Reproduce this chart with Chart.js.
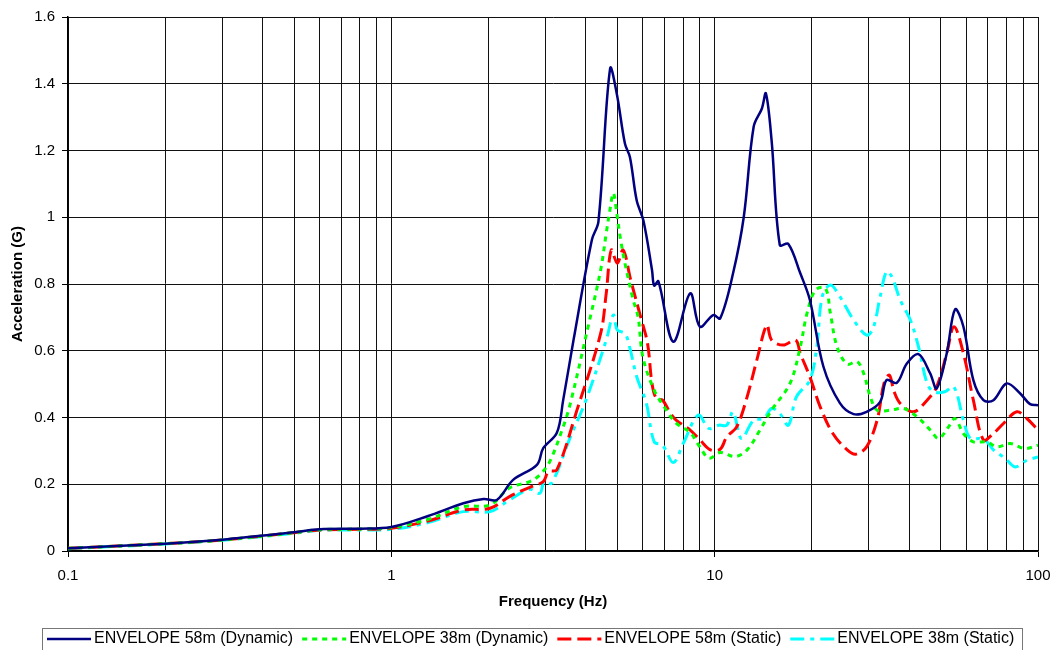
<!DOCTYPE html>
<html lang="en">
<head>
<meta charset="UTF-8">
<title>Envelope spectra</title>
<script src="https://cdn.jsdelivr.net/npm/chart.js@4"></script>
<style>
  html, body { margin: 0; padding: 0; background: #fff; }
  #wrap { width: 1053px; height: 650px; overflow: hidden; }
</style>
</head>
<body>
<div id="wrap"><canvas id="chart" width="1053" height="650"></canvas></div>
<script>
// series readings: frequency (Hz) / acceleration (G)
const freq58Dyn = [0.1,0.2,0.3,0.5,0.6,0.8,1.0,1.3,1.67,1.93,2.12,2.38,2.82,2.95,3.25,3.4,3.66,4.17,4.37,4.75,4.98,5.28,5.47,5.74,6.02,6.4,6.5,6.7,7.45,8.4,9.0,9.9,10.4,11.4,12.3,13.2,14.0,14.4,15.0,15.9,16.9,18.4,19.7,21.7,24.4,26.9,29.5,32.5,34.0,36.6,39.3,42.7,46.4,48.6,52.2,55.4,58.8,63.1,67.8,72.8,80,88.1,94.5,100];
const acc58Dyn  = [0.008,0.022,0.034,0.056,0.065,0.067,0.072,0.105,0.143,0.156,0.153,0.213,0.258,0.308,0.354,0.452,0.632,0.932,0.987,1.446,1.37,1.22,1.18,1.05,0.99,0.842,0.795,0.808,0.627,0.772,0.672,0.707,0.697,0.832,1.0,1.271,1.326,1.371,1.23,0.917,0.92,0.832,0.752,0.552,0.443,0.41,0.417,0.447,0.512,0.504,0.562,0.59,0.532,0.487,0.592,0.724,0.672,0.512,0.452,0.452,0.502,0.472,0.44,0.437];

const freq38Dyn = [0.1,0.2,0.3,0.5,0.6,0.8,1.0,1.3,1.67,2.02,2.32,2.68,2.88,3.09,3.4,3.58,4.06,4.44,4.62,4.74,4.86,4.98,5.1,5.28,5.6,5.8,6.0,6.5,7.0,7.6,8.4,9.0,9.6,10.4,11.6,12.6,13.8,15.0,17.1,18.4,19.3,20.5,22.0,22.8,23.9,25.7,27.6,28.9,30.3,31.8,35,38.4,42.3,46.5,49.3,52.9,55.4,58.8,63.1,69.5,74.6,82.1,91.2,100];
const acc38Dyn  = [0.008,0.022,0.033,0.055,0.064,0.066,0.07,0.095,0.133,0.138,0.189,0.208,0.228,0.268,0.372,0.443,0.672,0.842,0.952,1.02,1.072,1.012,0.942,0.862,0.752,0.70,0.58,0.482,0.43,0.383,0.355,0.312,0.278,0.295,0.283,0.303,0.362,0.422,0.502,0.612,0.712,0.782,0.787,0.712,0.612,0.56,0.567,0.532,0.462,0.422,0.422,0.427,0.402,0.362,0.337,0.372,0.397,0.352,0.327,0.327,0.312,0.322,0.307,0.317];

const freq58Sta = [0.1,0.2,0.3,0.5,0.6,0.8,1.0,1.3,1.67,2.02,2.32,2.68,2.95,3.06,3.25,3.75,4.44,4.62,4.79,5.0,5.21,5.5,5.9,6.2,6.4,6.6,6.9,7.3,7.6,8.4,9.0,9.7,10.4,10.9,11.7,12.6,13.5,14.5,15.0,16.3,17.8,18.4,19.7,21.2,23.2,25.7,27.3,29.5,31.8,33.4,34.7,35.9,37.5,41.2,45.4,48.6,52.2,55,58.8,63.1,67.8,72.8,78.2,86,92.4,100];
const acc58Sta  = [0.008,0.022,0.033,0.055,0.063,0.065,0.068,0.09,0.123,0.128,0.163,0.191,0.208,0.238,0.243,0.422,0.652,0.772,0.902,0.862,0.902,0.812,0.702,0.622,0.502,0.457,0.452,0.412,0.392,0.362,0.333,0.303,0.305,0.342,0.372,0.462,0.572,0.677,0.632,0.617,0.632,0.592,0.522,0.432,0.352,0.303,0.29,0.312,0.392,0.502,0.527,0.477,0.442,0.417,0.452,0.492,0.592,0.672,0.592,0.452,0.333,0.352,0.382,0.417,0.397,0.362];

const freq38Sta = [0.1,0.2,0.3,0.5,0.6,0.8,1.0,1.3,1.67,2.02,2.32,2.68,2.88,2.97,3.13,3.58,4.0,4.62,4.86,5.0,5.28,5.47,5.74,6.15,6.5,6.9,7.45,8.0,8.9,9.6,10.3,10.9,11.4,12.1,13.2,14.2,15.0,15.9,16.9,17.9,19.7,20.7,21.5,22.8,24.4,26.9,29.5,30.9,32.5,34.0,35.3,37.5,40.3,42.7,45.4,47.6,51.5,54.9,58.8,61.8,67.8,72.8,79.1,85,92.4,100];
const acc38Sta  = [0.007,0.021,0.032,0.053,0.062,0.063,0.065,0.085,0.118,0.118,0.153,0.185,0.173,0.208,0.203,0.342,0.452,0.632,0.707,0.662,0.652,0.607,0.522,0.442,0.327,0.317,0.265,0.323,0.407,0.367,0.377,0.377,0.417,0.337,0.392,0.397,0.427,0.412,0.377,0.462,0.512,0.612,0.762,0.797,0.762,0.692,0.647,0.667,0.762,0.837,0.822,0.752,0.692,0.612,0.502,0.477,0.477,0.492,0.392,0.337,0.337,0.303,0.278,0.252,0.272,0.282];

const seriesNames = ['ENVELOPE 58m (Dynamic)', 'ENVELOPE 38m (Dynamic)', 'ENVELOPE 58m (Static)', 'ENVELOPE 38m (Static)'];
const xDecades = [0.1, 1, 10, 100];
const xLabels = ['0.1', '1', '10', '100'];
const yLabels = ['0', '0.2', '0.4', '0.6', '0.8', '1', '1.2', '1.4', '1.6'];

const FONT = '"Liberation Sans", Arial, sans-serif';

function pts(xs, ys) {
  return xs.map((x, i) => ({ x: x, y: ys[i] }));
}

function decadeIndex(v) {
  for (let i = 0; i < xDecades.length; i++) {
    if (Math.abs(v - xDecades[i]) < xDecades[i] * 1e-6) return i;
  }
  return -1;
}

// framed legend under the axis title
const boxLegend = {
  id: 'boxLegend',
  afterDraw(chart) {
    const ctx = chart.ctx;
    const sets = chart.data.datasets;
    ctx.save();
    ctx.font = '16px ' + FONT;
    ctx.textBaseline = 'middle';
    const left = 42, top = 628, right = 1022, cy = 639;
    ctx.strokeStyle = '#777';
    ctx.lineWidth = 1;
    ctx.strokeRect(left + 0.5, top + 0.5, right - left, 40);
    let x = left + 5;
    sets.forEach(ds => {
      ctx.beginPath();
      ctx.setLineDash(ds.borderDash || []);
      ctx.strokeStyle = ds.borderColor;
      ctx.lineWidth = ds.borderWidth;
      ctx.moveTo(x, cy);
      ctx.lineTo(x + 44, cy);
      ctx.stroke();
      ctx.setLineDash([]);
      x += 47;
      ctx.fillStyle = '#000';
      ctx.fillText(ds.label, x, cy);
      x += ctx.measureText(ds.label).width + 9;
    });
    ctx.restore();
  }
};

new Chart(document.getElementById('chart'), {
  type: 'line',
  data: {
    datasets: [
      { label: seriesNames[0], data: pts(freq58Dyn, acc58Dyn), borderColor: '#000080', borderWidth: 2.5 },
      { label: seriesNames[1], data: pts(freq38Dyn, acc38Dyn), borderColor: '#00FF00', borderWidth: 3, borderDash: [5, 5] },
      { label: seriesNames[2], data: pts(freq58Sta, acc58Sta), borderColor: '#FF0000', borderWidth: 3, borderDash: [14, 6] },
      { label: seriesNames[3], data: pts(freq38Sta, acc38Sta), borderColor: '#00FFFF', borderWidth: 3, borderDash: [14, 6, 4, 6] }
    ]
  },
  options: {
    responsive: false,
    animation: false,
    elements: {
      point: { radius: 0 },
      line: { tension: 0.35, fill: false }
    },
    layout: { padding: { left: 0, right: 15, top: 17, bottom: 30 } },
    plugins: {
      legend: { display: false },
      tooltip: { enabled: false }
    },
    scales: {
      x: {
        type: 'logarithmic',
        min: 0.1,
        max: 100,
        afterBuildTicks(scale) {
          const ticks = [];
          for (let d = 0; d < xDecades.length - 1; d++) {
            for (let k = 1; k <= 9; k++) ticks.push({ value: k * xDecades[d] });
          }
          ticks.push({ value: xDecades[xDecades.length - 1] });
          scale.ticks = ticks;
        },
        afterFit(scale) {
          scale.height = 69;
          scale.paddingLeft = 0;
          scale.paddingRight = 0;
        },
        ticks: {
          autoSkip: false,
          maxRotation: 0,
          padding: 10,
          color: '#000',
          font: { family: FONT, size: 15 },
          callback(value) {
            const i = decadeIndex(value);
            return i >= 0 ? xLabels[i] : '';
          }
        },
        grid: {
          color: '#111',
          lineWidth: 1,
          tickLength: 6,
          tickColor: ctx => (ctx.tick && decadeIndex(ctx.tick.value) >= 0) ? '#000' : 'rgba(0,0,0,0)'
        },
        border: { color: '#000', width: 1.5 },
        title: {
          display: true,
          text: 'Frequency (Hz)',
          color: '#000',
          font: { family: FONT, size: 15, weight: 'bold' },
          padding: { top: 0, bottom: 9 }
        }
      },
      y: {
        min: 0,
        max: 1.6,
        afterFit(scale) {
          scale.width = 68;
          scale.paddingTop = 0;
          scale.paddingBottom = 0;
        },
        ticks: {
          stepSize: 0.2,
          padding: 7,
          color: '#000',
          font: { family: FONT, size: 15 },
          callback(value, index) { return yLabels[index]; }
        },
        grid: { color: '#111', lineWidth: 1, tickLength: 6, tickColor: '#000' },
        border: { color: '#000', width: 1.5 },
        title: {
          display: true,
          text: 'Acceleration (G)',
          color: '#000',
          font: { family: FONT, size: 15, weight: 'bold' },
          padding: { top: 9, bottom: 0 }
        }
      }
    }
  },
  plugins: [boxLegend]
});
</script>
</body>
</html>
